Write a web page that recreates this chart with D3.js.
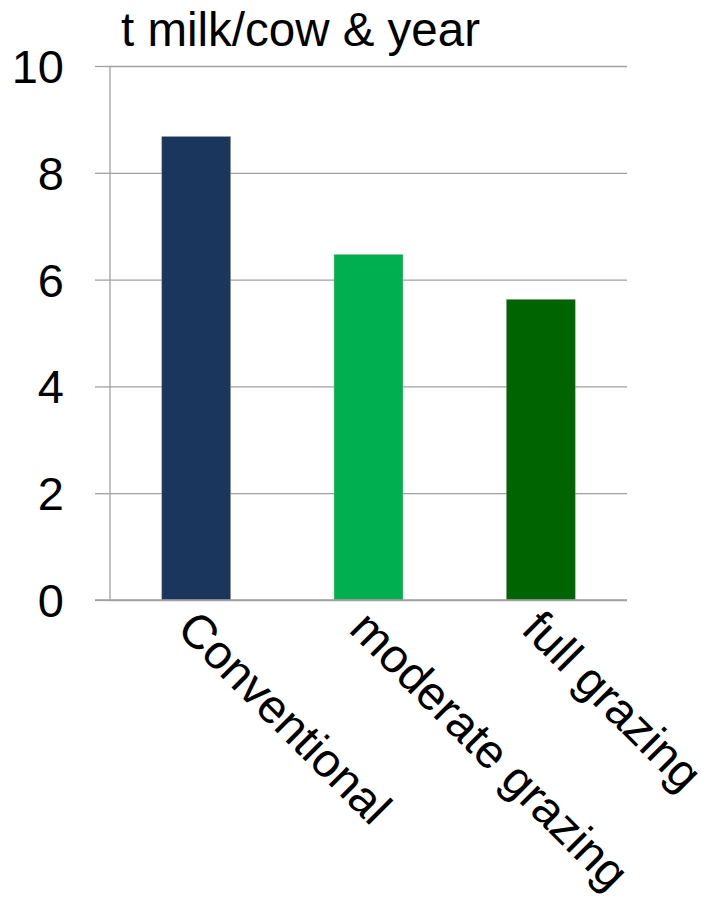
<!DOCTYPE html>
<html>
<head>
<meta charset="utf-8">
<script src="https://cdn.jsdelivr.net/npm/d3@7"></script>
<style>
  html, body { margin: 0; padding: 0; background: #fff; }
  svg { display: block; }
  text { font-family: "Liberation Sans", Arial, sans-serif; fill: #000; }
</style>
</head>
<body>
<svg id="chart" width="701" height="899"></svg>
<script>
const categories = ["Conventional", "moderate grazing", "full grazing"];
const values = [8.68, 6.47, 5.63];
const colors = ["#1b365d", "#00b050", "#006400"];
const yTicks = [0, 2, 4, 6, 8, 10];
const title = "t milk/cow & year";

const W = 701, H = 899;
const m = { left: 110, right: 74, top: 66, bottom: 299 };
const svg = d3.select("#chart");

const x = d3.scaleBand()
  .domain(categories)
  .range([m.left, W - m.right])
  .paddingInner(0.6)
  .paddingOuter(0.3);

const y = d3.scaleLinear()
  .domain([0, 10])
  .range([H - m.bottom, m.top]);

// gridlines
const grid = svg.append("g")
  .attr("transform", `translate(${m.left},0)`)
  .call(d3.axisLeft(y).tickValues(yTicks).tickSize(-(W - m.right - m.left)).tickFormat(""));
grid.select(".domain").remove();
grid.selectAll(".tick line").attr("stroke", "#a0a0a0").attr("stroke-width", 1.3);

// small outside ticks + labels
const yAxis = svg.append("g")
  .attr("transform", `translate(${m.left},0)`)
  .call(d3.axisLeft(y).tickValues(yTicks).tickSize(15).tickPadding(31).tickFormat(d3.format("d")));
yAxis.select(".domain").attr("stroke", "#a0a0a0").attr("stroke-width", 1.3)
  .attr("d", `M0,${y(10)}V${y(0)}`);
yAxis.selectAll(".tick line").attr("stroke", "#a0a0a0").attr("stroke-width", 1.3);
yAxis.selectAll(".tick text")
  .attr("font-size", 47)
  .attr("font-family", "Liberation Sans, Arial, sans-serif")
  .attr("fill", "#000")
  .attr("dy", "0.35em");

// bars
svg.append("g").selectAll("rect")
  .data(categories)
  .join("rect")
  .attr("x", d => x(d))
  .attr("width", x.bandwidth())
  .attr("y", (d, i) => y(values[i]))
  .attr("height", (d, i) => y(0) - y(values[i]))
  .attr("fill", (d, i) => colors[i])
  .attr("stroke", "#b0b0b0")
  .attr("stroke-opacity", 0.5)
  .attr("stroke-width", 0.8);

// redraw baseline over bars
svg.append("line")
  .attr("x1", m.left - 15).attr("x2", W - m.right)
  .attr("y1", y(0)).attr("y2", y(0))
  .attr("stroke", "#a0a0a0").attr("stroke-width", 1.3);

// category labels rotated 45°
svg.append("g").selectAll("text")
  .data(categories)
  .join("text")
  .attr("transform", d => `translate(${x(d) + x.bandwidth() / 2 - 21},${y(0) + 31}) rotate(45)`)
  .attr("font-size", 47.5)
  .text(d => d);

// title
svg.append("text")
  .attr("x", 121)
  .attr("y", 46)
  .attr("font-size", 47.5)
  .text(title);
</script>
</body>
</html>
